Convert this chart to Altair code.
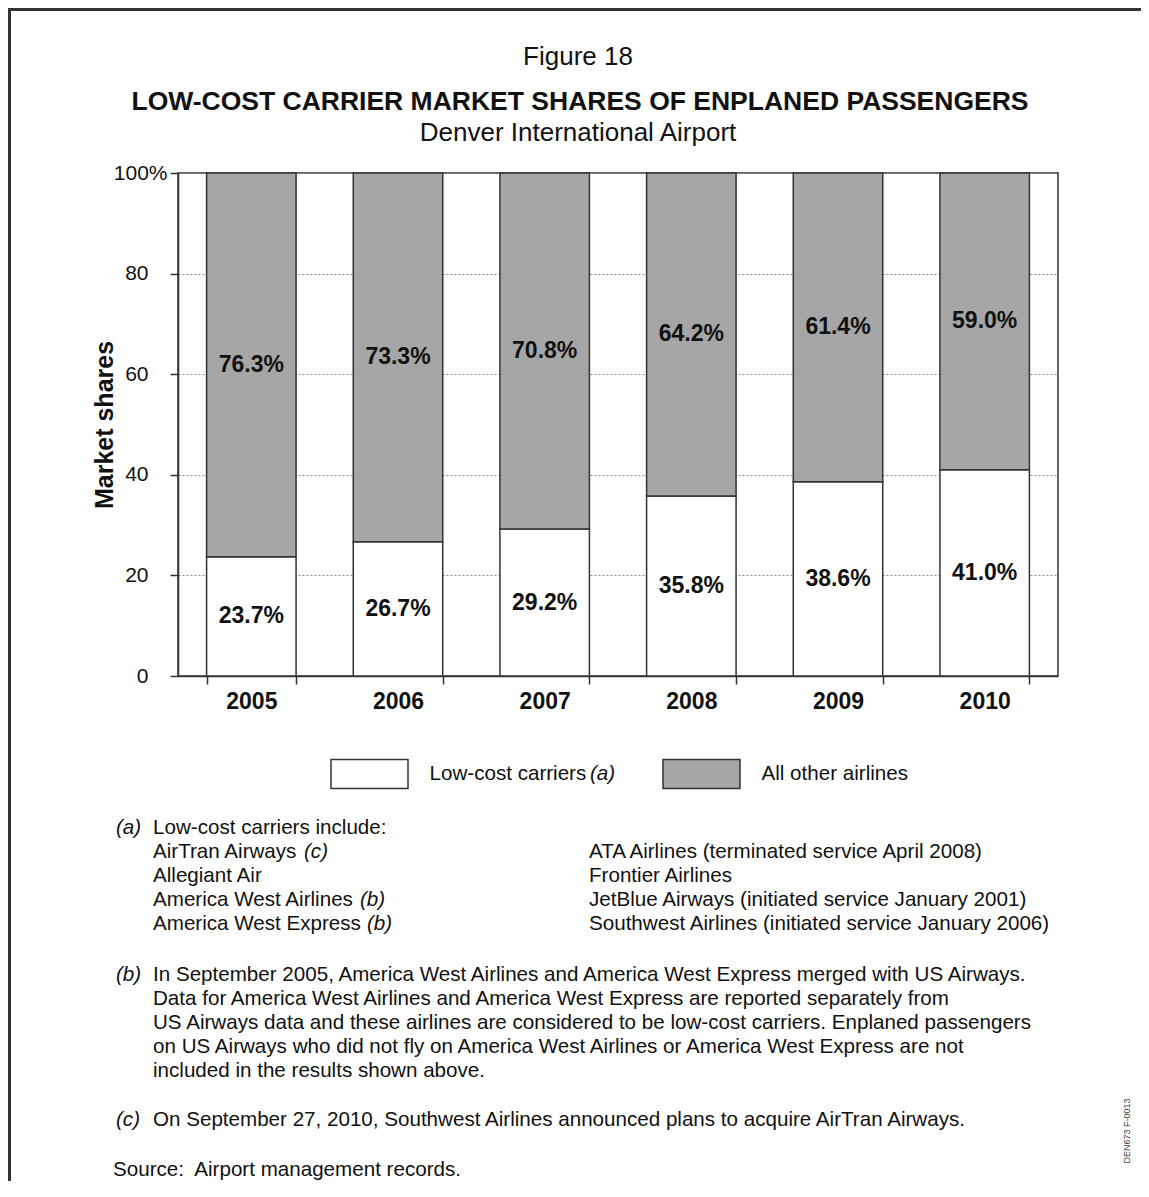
import altair as alt
import pandas as pd

FONT = "Liberation Sans"
INK = "#111111"
LINE = "#333333"

# ---- data ----
years = ["2005", "2006", "2007", "2008", "2009", "2010"]
low_cost = [23.7, 26.7, 29.2, 35.8, 38.6, 41.0]
all_other = [76.3, 73.3, 70.8, 64.2, 61.4, 59.0]
series = ["Low-cost carriers", "All other airlines"]
series_colors = ["#ffffff", "#a6a6a6"]
y_ticks = [0, 20, 40, 60, 80, 100]

fig_label = "Figure 18"
title_text = "LOW-COST CARRIER MARKET SHARES OF ENPLANED PASSENGERS"
subtitle_text = "Denver International Airport"
y_title = "Market shares"

note_a_left = ["Low-cost carriers include:", "AirTran Airways", "Allegiant Air",
               "America West Airlines", "America West Express"]
note_a_right = ["ATA Airlines (terminated service April 2008)", "Frontier Airlines",
                "JetBlue Airways (initiated service January 2001)",
                "Southwest Airlines (initiated service January 2006)"]
note_b = ["In September 2005, America West Airlines and America West Express merged with US Airways.",
          "Data for America West Airlines and America West Express are reported separately from",
          "US Airways data and these airlines are considered to be low-cost carriers. Enplaned passengers",
          "on US Airways who did not fly on America West Airlines or America West Express are not",
          "included in the results shown above."]
note_c = "On September 27, 2010, Southwest Airlines announced plans to acquire AirTran Airways."
source_text = "Source:\u00a0 Airport management records."
doc_code = "DEN673 F-0013"

# ---- table ----
rows = []
for i, yr in enumerate(years):
    rows.append(dict(year=yr, series=series[0], value=low_cost[i], order=0,
                     mid=low_cost[i] / 2, label=f"{low_cost[i]:.1f}%"))
    rows.append(dict(year=yr, series=series[1], value=all_other[i], order=1,
                     mid=low_cost[i] + all_other[i] / 2, label=f"{all_other[i]:.1f}%"))
df = pd.DataFrame(rows)

W, H = 880, 503

x_enc = alt.X("year:N", title=None, sort=years,
              scale=alt.Scale(paddingInner=0.39, paddingOuter=0.195),
              axis=alt.Axis(tickBand="extent", tickSize=8, tickColor=LINE, tickWidth=1.5,
                            domainColor=LINE, domainWidth=1.5, labelAngle=0,
                            labelFontSize=23, labelFontWeight="bold", labelPadding=6,
                            labelColor=INK, labelFont=FONT, grid=False))

y_enc = alt.Y("value:Q", stack="zero",
              scale=alt.Scale(domain=[0, 100], nice=False),
              axis=alt.Axis(values=y_ticks, title=y_title, titleFontSize=25,
                            titleFontWeight="bold", titleFont=FONT, titleColor=INK,
                            titleX=-61,
                            labelExpr="datum.value == 100 ? '100%' : datum.label",
                            labelFontSize=21, labelFont=FONT, labelColor=INK,
                            labelPadding={"condition": {"test": "datum.value == 100", "value": 3},
                                          "value": 22},
                            tickSize=8, tickColor=LINE, tickWidth=1.5,
                            domainColor=LINE, domainWidth=1.5,
                            grid=True, gridDash=[2, 2], gridColor="#8a8a8a", gridWidth=1))

bars = alt.Chart(df).mark_bar(stroke=LINE, strokeWidth=1.5).encode(
    x=x_enc,
    y=y_enc,
    color=alt.Color("series:N",
                    scale=alt.Scale(domain=series, range=series_colors),
                    legend=alt.Legend(title=None, orient="none", legendX=152, legendY=561,
                                      direction="horizontal",
                                      symbolType="M-1,-0.377L1,-0.377L1,0.377L-1,0.377Z",
                                      symbolSize=5929, symbolStrokeColor=LINE,
                                      symbolStrokeWidth=1.5, symbolOpacity=1,
                                      labelFontSize=20.6, labelFont=FONT, labelColor=INK,
                                      labelOffset=20.5, columnPadding=73, padding=0)),
    order=alt.Order("order:Q", sort="ascending"),
)

bar_labels = alt.Chart(df).mark_text(fontSize=23, fontWeight="bold", font=FONT,
                                     color=INK, align="center", baseline="middle").encode(
    x=alt.X("year:N", sort=years),
    y=alt.Y("mid:Q"),
    text="label:N",
)

one = pd.DataFrame({"k": [0]})


def note(text, x, y, size=20.6, weight="normal", style="normal", align="left",
         baseline="alphabetic", angle=0, color=INK):
    return alt.Chart(one).mark_text(text=text, align=align, baseline=baseline,
                                    fontSize=size, fontWeight=weight, fontStyle=style,
                                    font=FONT, color=color, lineHeight=24,
                                    angle=angle).encode(x=alt.value(x), y=alt.value(y))


def border(x, x2, y, y2):
    return alt.Chart(one).mark_rule(color=LINE, strokeWidth=3).encode(
        x=alt.value(x), x2=alt.value(x2), y=alt.value(y), y2=alt.value(y2))


annotations = [
    border(-170, 963, -163.5, -163.5),
    border(-168.5, -168.5, -165, 1008),
    note(fig_label, 400, -116, size=26, align="center", baseline="middle"),
    note(title_text, 402, -71, size=26.5, weight="bold", align="center", baseline="middle"),
    note(subtitle_text, 400, -40, size=26, align="center", baseline="middle"),
    note("(a)", 412, 600.5, style="italic", baseline="middle"),
    note("(a)", -62, 661, style="italic"),
    note(note_a_left, -25, 661),
    note("(c)", 126, 685, style="italic"),
    note("(b)", 182, 733, style="italic"),
    note("(b)", 189, 757, style="italic"),
    note(note_a_right, 411, 685),
    note("(b)", -62, 807.5, style="italic"),
    note(note_b, -25, 807.5),
    note("(c)", -62, 952.5, style="italic"),
    note(note_c, -25, 952.5),
    note(source_text, -65, 1002.5),
    note(doc_code, 949, 958, size=9, align="center", baseline="middle", angle=270,
         color="#444444"),
]

chart = alt.layer(bars, bar_labels, *annotations).properties(
    width=W, height=H,
    autosize=alt.AutoSizeParams(type="none"),
    padding={"left": 170, "top": 165, "right": 83, "bottom": 505},
    background="white",
).configure_view(stroke=LINE, strokeWidth=1.5).configure_axis(
    labelFont=FONT, titleFont=FONT)

chart.save("out.html", embed_options={"renderer": "svg", "actions": False})
